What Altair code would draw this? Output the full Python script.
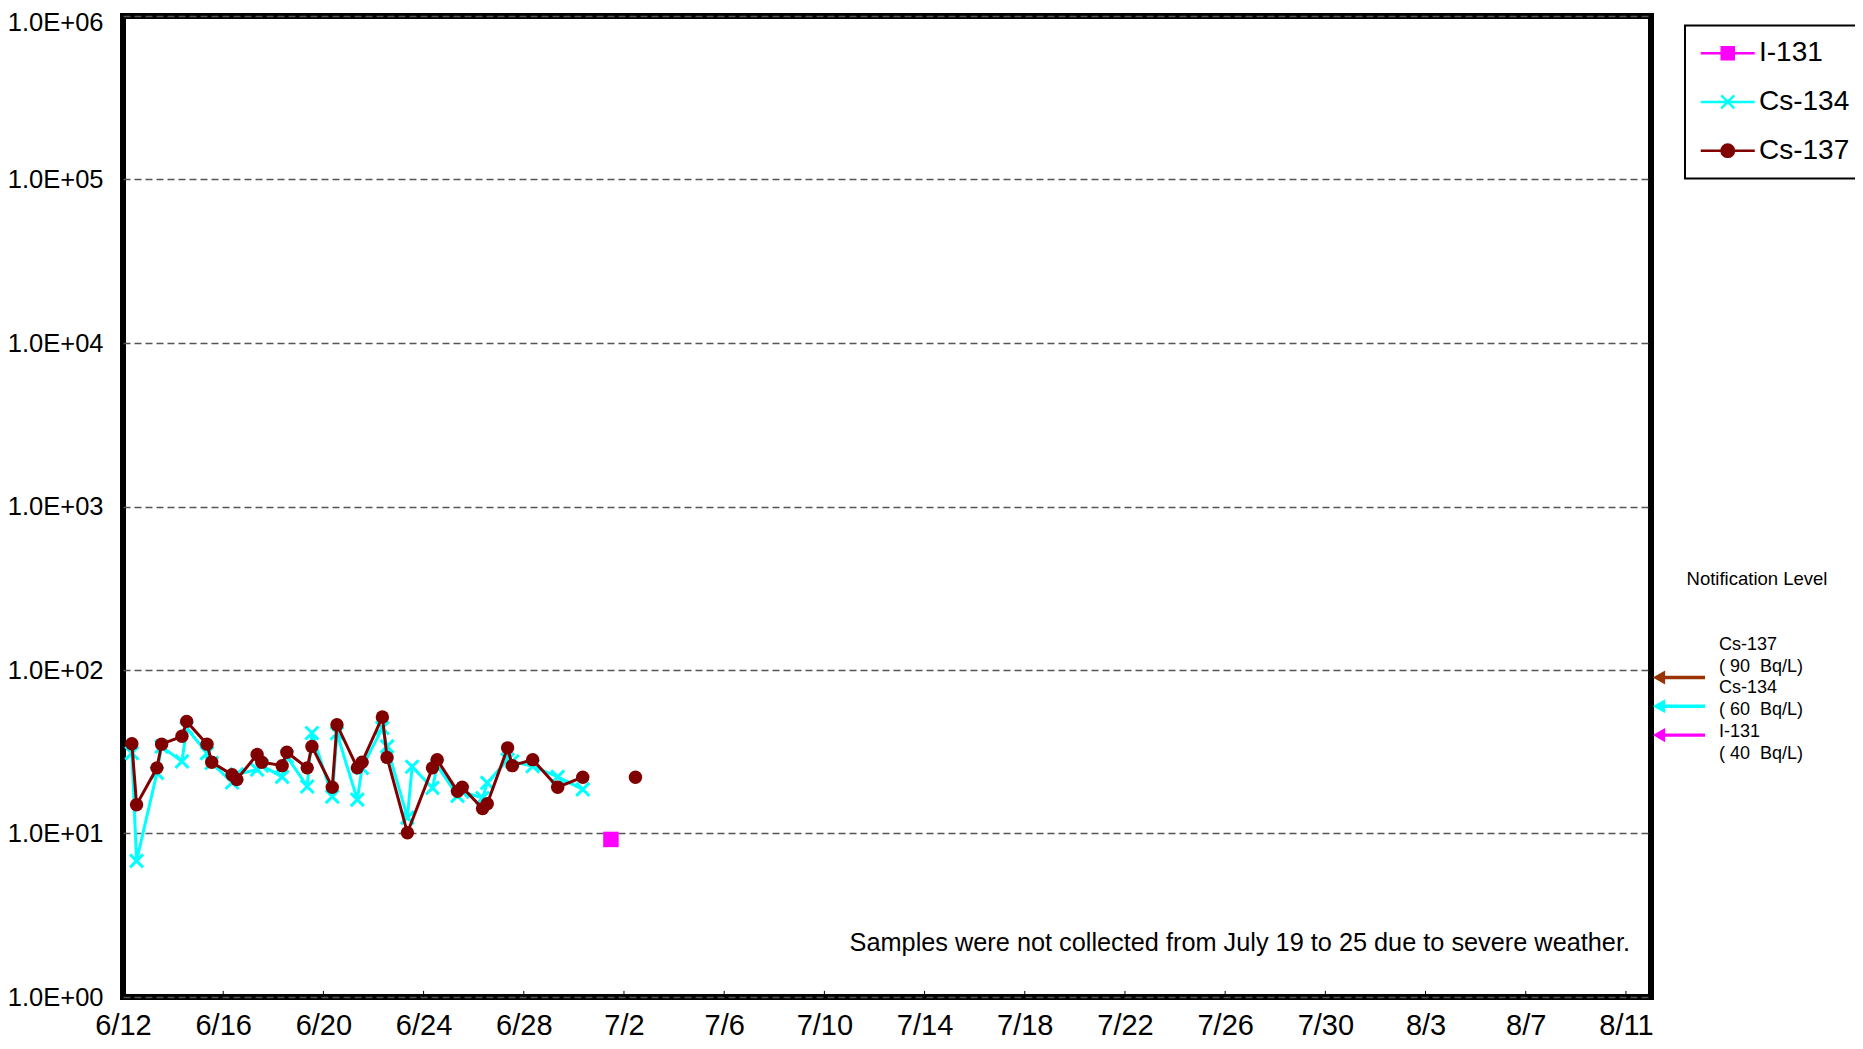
import altair as alt
import pandas as pd

# ---------------- data ----------------
cs137_time = [
    "2011-06-12T08:30:00Z", "2011-06-12T13:00:00Z",
    "2011-06-13T08:30:00Z", "2011-06-13T13:00:00Z",
    "2011-06-14T08:30:00Z", "2011-06-14T13:00:00Z",
    "2011-06-15T08:30:00Z", "2011-06-15T13:00:00Z",
    "2011-06-16T08:30:00Z", "2011-06-16T13:00:00Z",
    "2011-06-17T08:30:00Z", "2011-06-17T13:00:00Z",
    "2011-06-18T08:30:00Z", "2011-06-18T13:00:00Z",
    "2011-06-19T08:30:00Z", "2011-06-19T13:00:00Z",
    "2011-06-20T08:30:00Z", "2011-06-20T13:00:00Z",
    "2011-06-21T08:30:00Z", "2011-06-21T13:00:00Z",
    "2011-06-22T08:30:00Z", "2011-06-22T13:00:00Z",
    "2011-06-23T08:30:00Z",
    "2011-06-24T08:30:00Z", "2011-06-24T13:00:00Z",
    "2011-06-25T08:30:00Z", "2011-06-25T13:00:00Z",
    "2011-06-26T08:30:00Z", "2011-06-26T13:00:00Z",
    "2011-06-27T08:30:00Z", "2011-06-27T13:00:00Z",
    "2011-06-28T08:30:00Z",
    "2011-06-29T08:30:00Z",
    "2011-06-30T08:30:00Z",
    "2011-07-02T11:00:00Z",
]
cs137_value = [
    35.4, 15.0, 25.2, 35.2, 39.3, 48.5, 35.2, 27.3, 22.9, 21.4,
    30.4, 27.3, 26.0, 31.4, 25.2, 34.1, 19.2, 46.3, 25.2, 27.3,
    51.6, 29.2, 10.1, 25.2, 28.3, 18.1, 19.2, 14.2, 15.2, 33.4,
    26.0, 28.3, 19.2, 22.1, 22.1,
]
cs137_segment = [1] * 34 + [2]

cs134_time = [
    "2011-06-12T08:30:00Z", "2011-06-12T13:00:00Z",
    "2011-06-13T08:30:00Z", "2011-06-13T13:00:00Z",
    "2011-06-14T08:30:00Z", "2011-06-14T13:00:00Z",
    "2011-06-15T08:30:00Z", "2011-06-15T13:00:00Z",
    "2011-06-16T08:30:00Z", "2011-06-16T13:00:00Z",
    "2011-06-17T08:30:00Z", "2011-06-17T13:00:00Z",
    "2011-06-18T08:30:00Z", "2011-06-18T13:00:00Z",
    "2011-06-19T08:30:00Z", "2011-06-19T13:00:00Z",
    "2011-06-20T08:30:00Z", "2011-06-20T13:00:00Z",
    "2011-06-21T08:30:00Z", "2011-06-21T13:00:00Z",
    "2011-06-22T08:30:00Z", "2011-06-22T13:00:00Z",
    "2011-06-23T08:30:00Z", "2011-06-23T13:00:00Z",
    "2011-06-24T08:30:00Z", "2011-06-24T13:00:00Z",
    "2011-06-25T08:30:00Z", "2011-06-25T13:00:00Z",
    "2011-06-26T08:30:00Z", "2011-06-26T13:00:00Z",
    "2011-06-27T08:30:00Z", "2011-06-27T13:00:00Z",
    "2011-06-28T08:30:00Z",
    "2011-06-29T08:30:00Z",
    "2011-06-30T08:30:00Z",
]
cs134_value = [
    31.0, 6.8, 23.5, 34.0, 27.6, 44.0, 31.0, 27.0, 20.5, 23.0,
    24.6, 26.0, 22.2, 29.6, 19.4, 41.2, 16.8, 41.0, 16.1, 25.2,
    44.2, 34.1, 12.5, 25.6, 19.0, 26.0, 17.0, 18.0, 16.5, 20.4,
    28.3, 27.6, 25.8, 22.2, 18.6,
]

i131_time = ["2011-07-01T11:30:00Z"]
i131_value = [9.2]

# notification levels (Bq/L)
level_nuclide = ["Cs-137", "Cs-134", "I-131"]
level_value = [90, 60, 40]
level_color = ["#993300", "#00FFFF", "#FF00FF"]

# legend
legend_names = ["I-131", "Cs-134", "Cs-137"]
legend_colors = ["#FF00FF", "#00FFFF", "#800000"]
legend_paths = [
    "M-2.7,0H2.7M-0.6,-0.6H0.6V0.6H-0.6Z",
    "M-2.7,0H2.7M-0.65,-0.65L0.65,0.65M-0.65,0.65L0.65,-0.65",
    "M-2.7,0H2.7M-0.62,0A0.62,0.62,0,1,1,0.62,0A0.62,0.62,0,1,1,-0.62,0Z",
]

# x axis ticks (month, day)
tick_month_day = [(6, 12), (6, 16), (6, 20), (6, 24), (6, 28), (7, 2), (7, 6), (7, 10),
                  (7, 14), (7, 18), (7, 22), (7, 26), (7, 30), (8, 3), (8, 7), (8, 11)]
y_ticks = [1, 10, 100, 1000, 10000, 100000, 1000000]

note_text = "Samples were not collected from July 19 to 25 due to severe weather."
level_title = "Notification Level"
level_lines = ["Cs-137", "(\u00a090\u00a0\u00a0Bq/L)", "Cs-134", "(\u00a060\u00a0\u00a0Bq/L)",
               "I-131", "(\u00a040\u00a0\u00a0Bq/L)"]

# ---------------- frames ----------------
df137 = pd.DataFrame({"time": cs137_time, "value": cs137_value, "seg": cs137_segment})
df134 = pd.DataFrame({"time": cs134_time, "value": cs134_value})
df131 = pd.DataFrame({"time": i131_time, "value": i131_value})
dflev = pd.DataFrame({"nuclide": level_nuclide, "value": level_value, "color": level_color})
dfleg = pd.DataFrame({"name": legend_names})
dftick = pd.DataFrame({"time": ["2011-%02d-%02dT00:00:00Z" % md for md in tick_month_day]})
one = pd.DataFrame({"k": [0]})

W, H = 1528, 981
FONT = "Liberation Sans"

x_scale = alt.Scale(type="utc", nice=False,
                    domain=[alt.DateTime(year=2011, month=6, date=12, utc=True),
                            alt.DateTime(year=2011, month=8, date=12, utc=True)])
y_scale = alt.Scale(type="log", domain=[1, 1000000], nice=False)

x_axis = alt.Axis(
    values=[alt.DateTime(year=2011, month=m, date=d, utc=True) for m, d in tick_month_day],
    labelExpr="utcFormat(datum.value, '%-m/%-d')",
    title=None, grid=False, ticks=False, domain=False,
    labelFont=FONT, labelFontSize=29, labelColor="black", labelPadding=14,
    labelFlush=False, labelOverlap=False, labelBound=False,
)
y_axis = alt.Axis(
    values=y_ticks,
    labelExpr="'1.0E+0' + round(log(datum.value) / LN10)",
    title=None, grid=True, gridDash=[7, 4], gridColor="#555555", gridWidth=1.3,
    ticks=False, domain=False,
    labelFont=FONT, labelFontSize=25.5, labelColor="black", labelPadding=20,
    labelOffset={"condition": {"test": "datum.value >= 1000000", "value": 6}, "value": 0},
    labelFlush=False, labelOverlap=False, labelBound=False,
)

X = alt.X("time:T", scale=x_scale, axis=x_axis)
Y = alt.Y("value:Q", scale=y_scale, axis=y_axis)

ticks = alt.Chart(dftick).mark_rule(color="black", strokeWidth=1).encode(
    x=X, y=alt.datum(1), y2=alt.datum(1.09))

line134 = alt.Chart(df134).mark_line(color="#00FFFF", strokeWidth=3).encode(x=X, y=Y)
pts134 = alt.Chart(df134).mark_point(
    shape="M-1,-1L1,1M-1,1L1,-1", filled=False, stroke="#00FFFF", strokeWidth=3,
    size=169, opacity=1).encode(x=X, y=Y)

line137 = alt.Chart(df137).mark_line(color="#800000", strokeWidth=3).encode(
    x=X, y=Y, detail="seg:N")
pts137 = alt.Chart(df137).mark_point(
    shape="circle", filled=True, fill="#800000", size=180, opacity=1).encode(x=X, y=Y)

pts131 = alt.Chart(df131).mark_point(
    shape="square", filled=True, fill="#FF00FF", size=240, opacity=1).encode(x=X, y=Y)

leg_fill = alt.Scale(domain=legend_names, range=legend_colors)
leg_shape = alt.Scale(domain=legend_names, range=legend_paths)
legend_layer = alt.Chart(dfleg).mark_point(filled=True, opacity=1, strokeWidth=2.5).encode(
    fill=alt.Fill("name:N", scale=leg_fill, legend=alt.Legend(title=None)),
    stroke=alt.Stroke("name:N", scale=leg_fill, legend=alt.Legend(title=None)),
    shape=alt.Shape("name:N", scale=leg_shape, legend=alt.Legend(title=None)),
).transform_filter("false")

arrows = alt.Chart(dflev).mark_rule(strokeWidth=3.3).encode(
    x=alt.value(W + 14), x2=alt.value(W + 54), y=alt.Y("value:Q", scale=y_scale),
    color=alt.Color("color:N", scale=None))
heads = alt.Chart(dflev).mark_point(shape="triangle-left", filled=True, size=200, opacity=1).encode(
    x=alt.value(W + 8), y=alt.Y("value:Q", scale=y_scale),
    fill=alt.Fill("color:N", scale=None))

note = alt.Chart(one).mark_text(
    text=note_text, font=FONT, fontSize=25.3, color="black", align="right", baseline="middle"
).encode(x=alt.value(1507), y=alt.value(927))

lev_title = alt.Chart(one).mark_text(
    text=level_title, font=FONT, fontSize=18.5, color="black", align="center", baseline="middle"
).encode(x=alt.value(1634), y=alt.value(563))

lev_text = alt.Chart(one).mark_text(
    text=level_lines, font=FONT, fontSize=18, color="black", align="left", baseline="middle",
    lineHeight=21.7
).encode(x=alt.value(1596), y=alt.value(629))

chart = alt.layer(
    ticks, line134, pts134, line137, pts137, pts131, legend_layer,
    arrows, heads, note, lev_title, lev_text
).properties(
    width=W, height=H,
    autosize=alt.AutoSizeParams(type="none"),
    padding={"left": 115, "top": 8, "right": 204, "bottom": 44},
).configure_view(
    stroke="black", strokeWidth=6
).configure_legend(
    orient="none", legendX=1562, legendY=9.5,
    padding=13.75, rowPadding=20.7, labelOffset=17.25, symbolOffset=15,
    symbolSize=400, symbolStrokeWidth=2.5,
    labelFont=FONT, labelFontSize=28, labelColor="black", labelLimit=500,
    strokeColor="black", strokeWidth=2, fillColor="white",
)

chart.save("out.html", embed_options={"renderer": "svg", "actions": False})
